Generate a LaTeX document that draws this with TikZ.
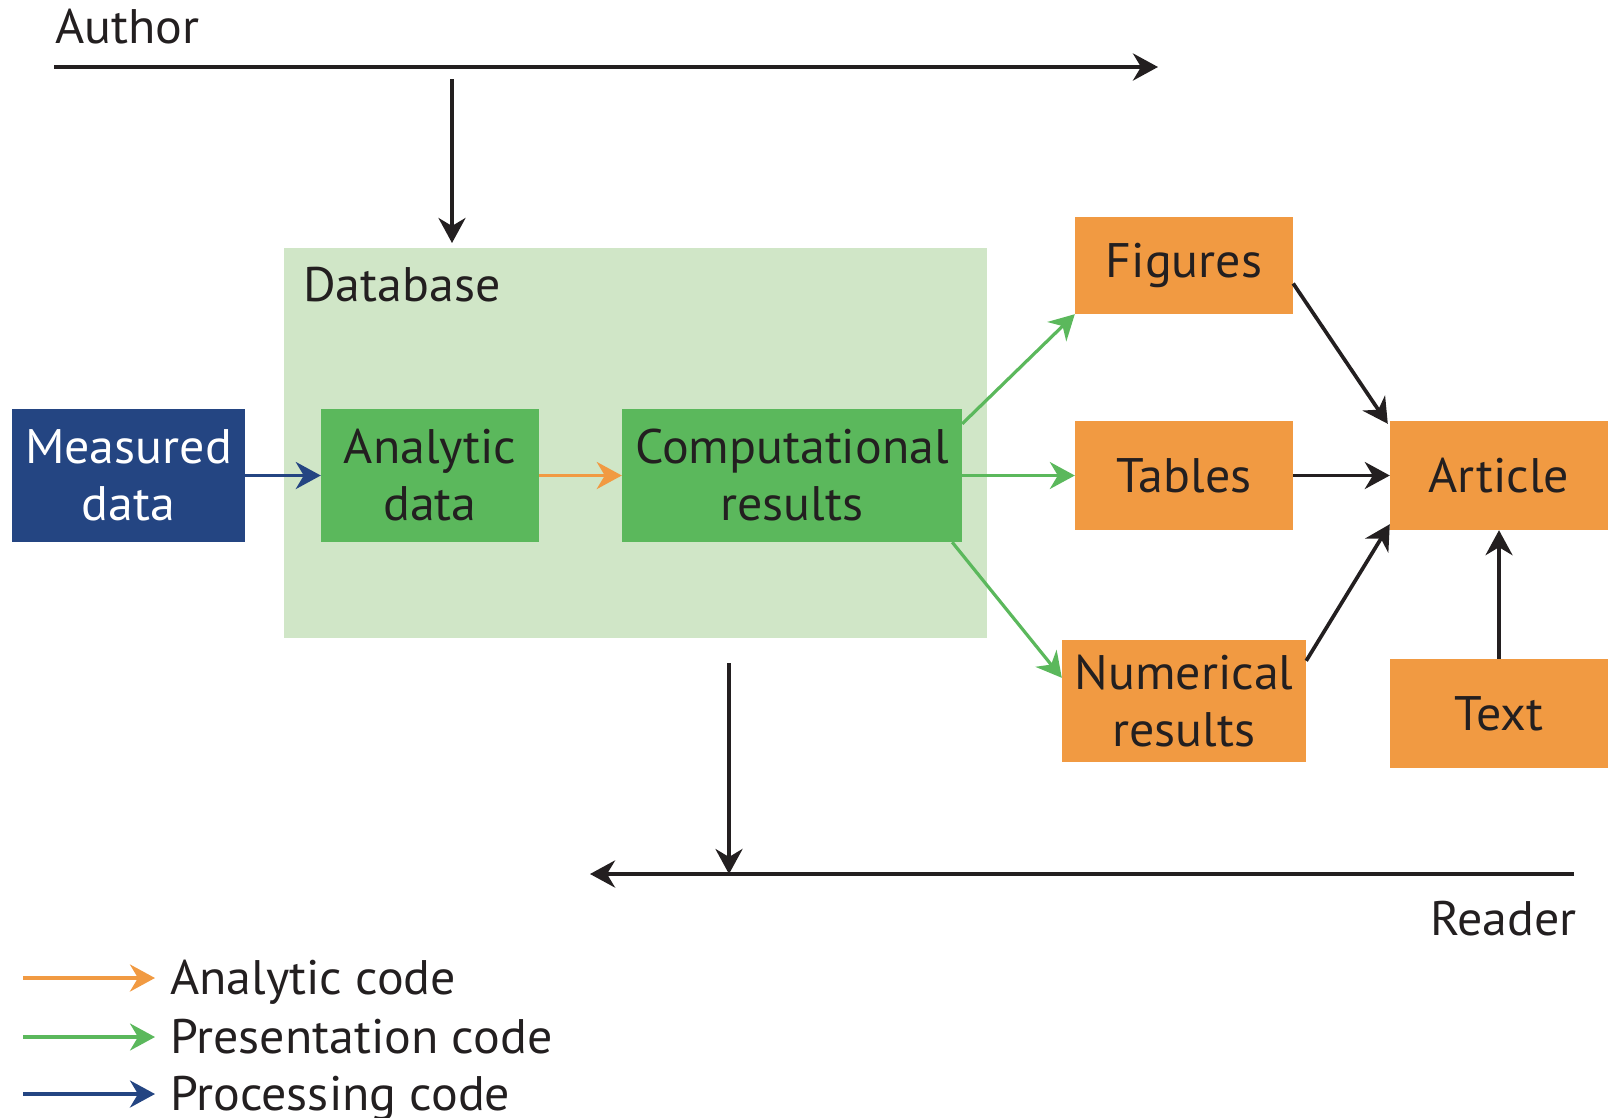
\documentclass[tikz,border=0pt]{standalone}
\usepackage{fontspec}
\setmainfont{PT Sans}[FakeStretch=1.03]
\usetikzlibrary{arrows.meta,calc}
\definecolor{navy}{HTML}{244582}
\definecolor{grn}{HTML}{5BB85C}
\definecolor{lgrn}{HTML}{D0E6C7}
\definecolor{org}{HTML}{F19A42}
\definecolor{ink}{HTML}{231F20}
\tikzset{
  big/.style={font=\fontsize{48.5}{57}\selectfont},
  box/.style={big, inner sep=0pt, align=center, text=ink},
  navybox/.style={box, fill=navy, text=white},
  greenbox/.style={box, fill=grn},
  orangebox/.style={box, fill=org},
  tip/.style={-{Stealth[length=25pt,width=27pt,inset=8pt]}},
  blk/.style={draw=ink, line width=3.7pt, tip},
  mainline/.style={draw=ink, line width=4.8pt},
  grnarrow/.style={draw=grn, line width=3.2pt, tip},
  orgarrow/.style={draw=org, line width=3.6pt, tip},
  navyarrow/.style={draw=navy, line width=3.6pt, tip},
  lbl/.style={big, text=ink, inner sep=0pt}
}
\begin{document}
\begin{tikzpicture}[x=1pt,y=-1pt]
\useasboundingbox (0,0) rectangle (1612,1117);
% database background
\node[fill=lgrn, minimum width=703pt, minimum height=390pt, inner sep=0pt, anchor=north west] (db) at (284,248) {};
\node[lbl, anchor=base west] (dbl) at (303,301) {Database};
% nodes
\node[navybox, minimum width=233pt, minimum height=133pt] (meas) at (128.5,475.5) {Measured\\data};
\node[greenbox, minimum width=218pt, minimum height=133pt] (anal) at (430,475.5) {Analytic\\data};
\node[greenbox, minimum width=340pt, minimum height=133pt] (comp) at (792,475.5) {Computational\\results};
\node[orangebox, minimum width=218pt, minimum height=97pt] (fig) at (1184,265.5) {Figures};
\node[orangebox, minimum width=218pt, minimum height=109pt] (tab) at (1184,475.5) {Tables};
\node[orangebox, minimum width=244pt, minimum height=122pt] (num) at (1184,701) {Numerical\\results};
\node[orangebox, minimum width=218pt, minimum height=109pt] (art) at (1499,475.5) {Article};
\node[orangebox, minimum width=218pt, minimum height=109pt] (txt) at (1499,713.5) {Text};
% author
\node[lbl, anchor=base west] (author) at (55,43) {Author};
\coordinate (al) at (54,67);
\coordinate (ar) at (1158,67);
\draw[mainline, tip] (al) -- (ar);
\coordinate (adtop) at (452,79);
\coordinate (adbot) at (452,243);
\draw[blk] (adtop) -- (adbot);
% reader
\node[lbl, anchor=base east] (reader) at (1577,935) {Reader};
\coordinate (rr) at (1574,874);
\coordinate (rl) at (590,874);
\draw[mainline, tip] (rr) -- (rl);
\coordinate (rdtop) at (729,663);
\coordinate (rdbot) at (729,874);
\draw[blk] (rdtop) -- (rdbot);
% flow arrows
\draw[navyarrow] (meas.east) -- (anal.west);
\draw[orgarrow] (anal.east) -- (comp.west);
\draw[grnarrow] ($(comp.north east)+(0,15)$) -- (fig.south west);
\draw[grnarrow] (comp.east) -- (tab.west);
\draw[grnarrow] ($(comp.south east)+(-10,0)$) -- ($(num.north west)+(0,38)$);
\draw[blk] ($(fig.east)+(0,18)$) -- ($(art.north west)+(-2,3)$);
\draw[blk] (tab.east) -- (art.west);
\draw[blk] ($(num.north east)+(0,21)$) -- ($(art.south west)+(0,-6)$);
\draw[blk] (txt.north) -- (art.south);
% legend
\coordinate (l1a) at (23,978); \coordinate (l1b) at (155,978);
\coordinate (l2a) at (23,1037); \coordinate (l2b) at (155,1037);
\coordinate (l3a) at (23,1094); \coordinate (l3b) at (155,1094);
\draw[orgarrow] (l1a) -- (l1b);
\draw[grnarrow] (l2a) -- (l2b);
\draw[navyarrow] (l3a) -- (l3b);
\node[lbl, anchor=base west] (lt1) at (170,994) {Analytic code};
\node[lbl, anchor=base west] (lt2) at (170,1053) {Presentation code};
\node[lbl, anchor=base west] (lt3) at (170,1110) {Processing code};
\end{tikzpicture}
\end{document}
